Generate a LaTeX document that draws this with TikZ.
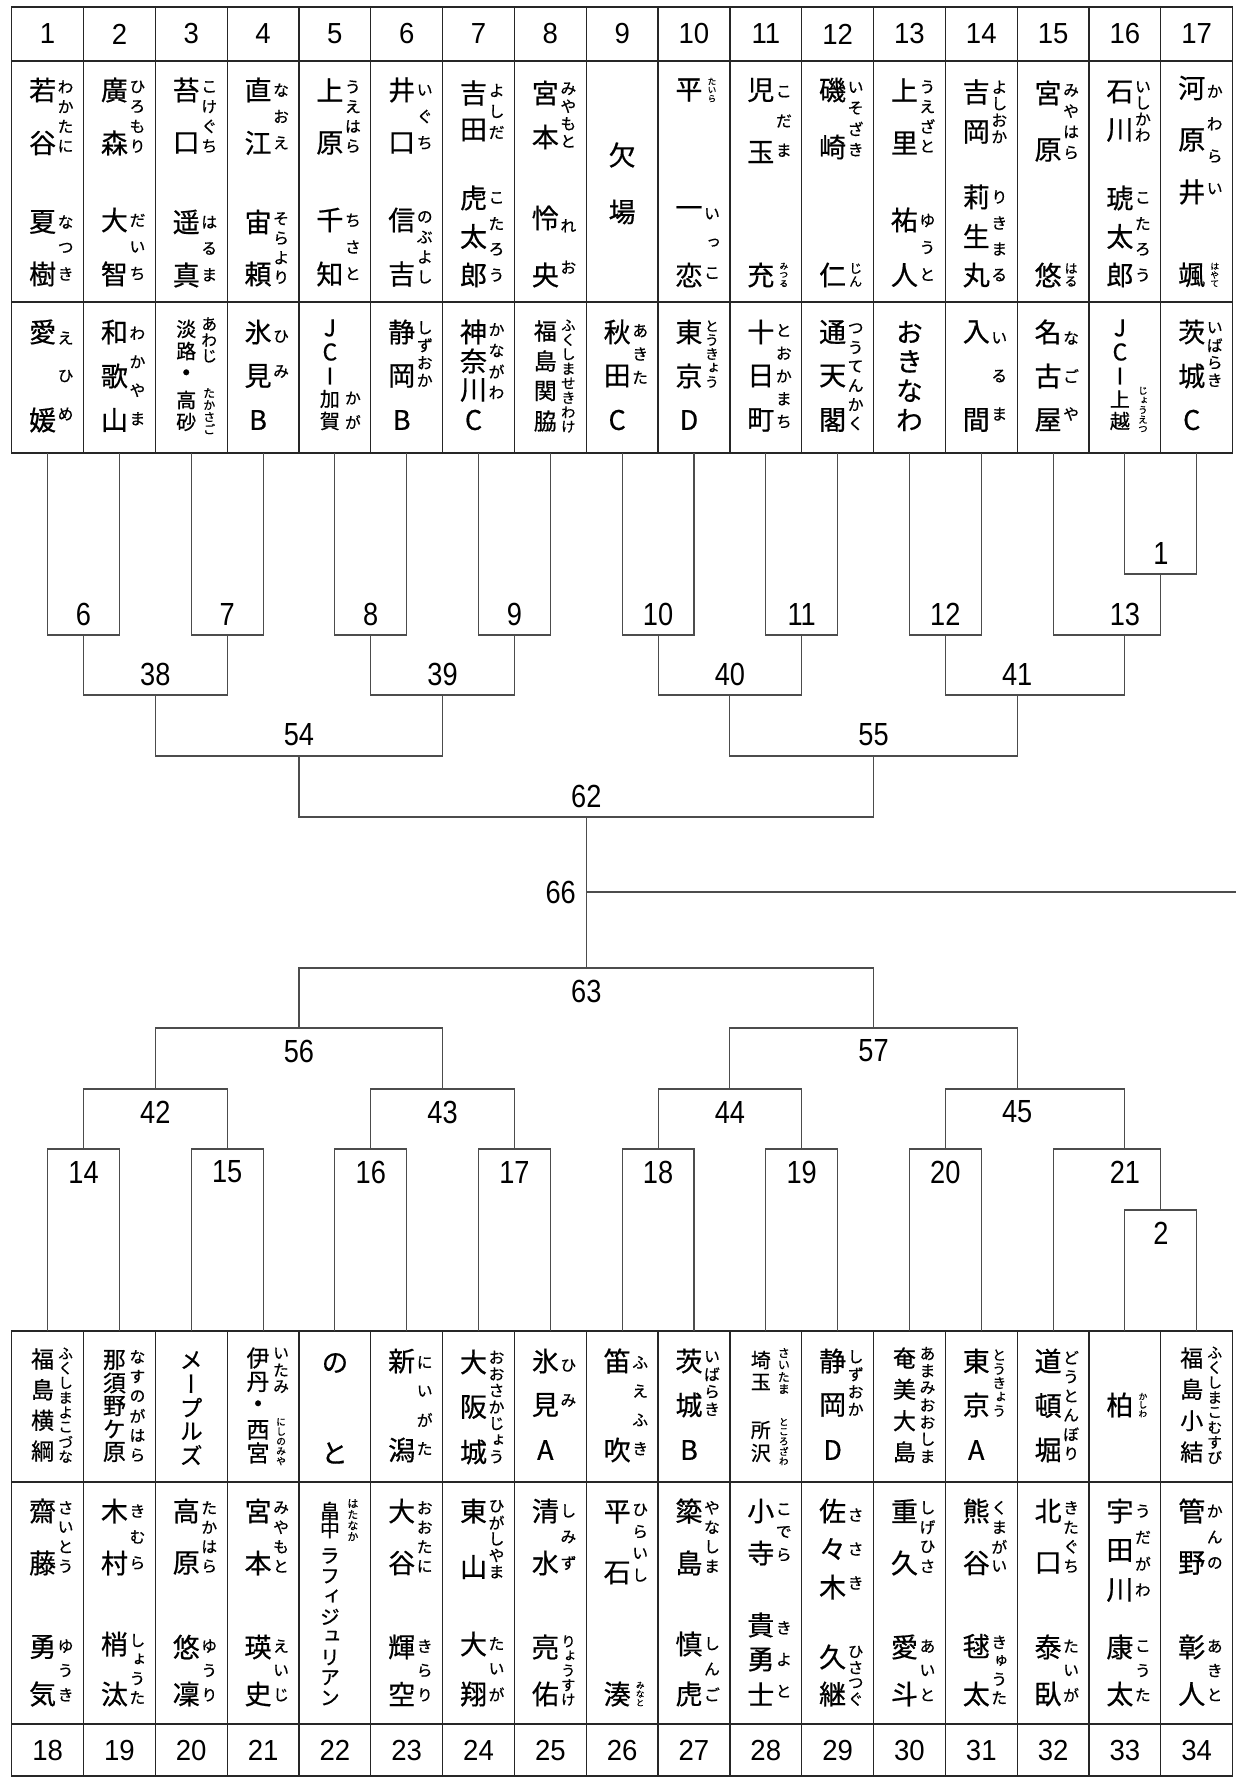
\documentclass[tikz,border=0pt]{standalone}
\usepackage{fontspec}
\usepackage{tikz}
\newfontfamily\jp[RawFeature=+vert, FakeBold=0.6]{Noto Sans CJK JP}
\newfontfamily\numf[FakeStretch=0.95]{Liberation Sans}
\newfontfamily\bnumf[FakeStretch=0.85]{Liberation Sans}
\newcommand{\kjl}{\jp\fontsize{13.5pt}{13.5pt}\selectfont}
\newcommand{\kjm}{\jp\fontsize{11.5pt}{11.5pt}\selectfont}
\newcommand{\kjs}{\jp\fontsize{10pt}{10pt}\selectfont}
\newcount\chn
\newcommand{\colx}[1]{\pgfmathsetmacro\cx{11.7+71.82*(#1-0.5)}}
% word with reading: [kanji opts]{col}{y first}{y last}{kanji}{kana}
\newcommand{\rw}[6][]{%
  \colx{#2}%
  \foreach \kc [count=\kn] in {#5}{\global\let\nk\kn}%
  \foreach \kc [count=\kn] in {#6}{\global\let\nr\kn}%
  \foreach \kc [count=\kn] in {#5}{%
    \ifnum\nk=1 \pgfmathsetmacro\yy{#3}\else
    \pgfmathsetmacro\yy{#3+(#4-#3)*(\kn-1)/(\nk-1)}\fi
    \global\advance\chn by 1
    \node[kan,#1] (ch\the\chn) at (\cx-5,\yy) {\kc};}%
  \pgfmathsetmacro\slot{(#4-#3+26)/\nr}%
  \pgfmathsetmacro\kfs{min(16,\slot)/2}%
  \foreach \kc [count=\kn] in {#6}{%
    \pgfmathsetmacro\yy{#3-13+\slot*(\kn-0.5)}%
    \global\advance\chn by 1
    \node[kana, font=\jp\fontsize{\kfs pt}{\kfs pt}\selectfont] (ch\the\chn) at (\cx+18,\yy) {\kc};}%
}
% plain characters: [opts]{col}{dx}{y first}{y last}{chars}
\newcommand{\pw}[6][]{%
  \colx{#2}%
  \pgfmathsetmacro\xx{\cx+(#3)}%
  \foreach \kc [count=\kn] in {#6}{\global\let\nk\kn}%
  \foreach \kc [count=\kn] in {#6}{%
    \ifnum\nk=1 \pgfmathsetmacro\yy{#4}\else
    \pgfmathsetmacro\yy{#4+(#5-#4)*(\kn-1)/(\nk-1)}\fi
    \global\advance\chn by 1
    \node[kan,#1] (ch\the\chn) at (\xx,\yy) {\kc};}%
}

\begin{document}
\begin{tikzpicture}[x=0.5pt, y=-0.5pt,
    kan/.style={font=\kjl, inner sep=0pt},
    kana/.style={inner sep=0pt},
    hnum/.style={font=\numf\fontsize{14.5pt}{14.5pt}\selectfont, inner sep=0pt},
    num/.style={font=\bnumf\fontsize{16pt}{16pt}\selectfont, inner sep=0pt},
    tnum/.style={num, yshift=10.5pt},
    bnum/.style={num, yshift=-11.5pt},
    grid/.style={line width=0.6pt, black!85},
    bline/.style={line width=0.55pt, black!70}]
  \fill[white] (0,0) rectangle (1236,1777);
  \useasboundingbox (0,0) rectangle (1236,1777);

  % tables
  \draw[grid] (11.7,7) rectangle (1232.7,453);
  \draw[grid] (11.7,61) -- (1232.7,61) (11.7,302) -- (1232.7,302);
  \foreach \i in {1,...,16} \draw[grid] ({11.7+71.82*\i},7) -- ({11.7+71.82*\i},453);
  \draw[grid] (11.7,1331) rectangle (1232.7,1776);
  \draw[grid] (11.7,1482) -- (1232.7,1482) (11.7,1724) -- (1232.7,1724);
  \foreach \i in {1,...,16} \draw[grid] ({11.7+71.82*\i},1331) -- ({11.7+71.82*\i},1776);

  \foreach \i in {1,...,17}{
    \pgfmathtruncatemacro\j{\i+17}
    \node[hnum] (h\i) at ({11.7+71.82*(\i-0.5)},34) {\i};
    \node[hnum] (f\i) at ({11.7+71.82*(\i-0.5)},1750) {\j};
  }

  % top players
  \rw{1}{90}{143}{若,谷}{わ,か,た,に}
  \rw{1}{222}{274}{夏,樹}{な,つ,き}
  \rw{2}{90}{143}{廣,森}{ひ,ろ,も,り}
  \rw{2}{220}{274}{大,智}{だ,い,ち}
  \rw{3}{90}{143}{苔,口}{こ,け,ぐ,ち}
  \rw{3}{222}{275}{遥,真}{は,る,ま}
  \rw{4}{90}{143}{直,江}{な,お,え}
  \rw{4}{222}{274}{宙,頼}{そ,ら,よ,り}
  \rw{5}{90}{143}{上,原}{う,え,は,ら}
  \rw{5}{220}{274}{千,知}{ち,さ,と}
  \rw{6}{90}{143}{井,口}{い,ぐ,ち}
  \rw{6}{220}{274}{信,吉}{の,ぶ,よ,し}
  \rw{7}{93}{130}{吉,田}{よ,し,だ}
  \rw{7}{198}{275}{虎,太,郎}{こ,た,ろ,う}
  \rw{8}{93}{137}{宮,本}{み,や,も,と}
  \rw{8}{218}{275}{怜,央}{れ,お}
  \pw{9}{0}{155}{212}{欠,場}
  \rw{10}{90}{90}{平}{た,い,ら}
  \rw{10}{212}{275}{一,恋}{い,っ,こ}
  \rw{11}{90}{152}{児,玉}{こ,だ,ま}
  \rw{11}{275}{275}{充}{み,つ,る}
  \rw{12}{90}{147}{磯,崎}{い,そ,ざ,き}
  \rw{12}{275}{275}{仁}{じ,ん}
  \rw{13}{90}{143}{上,里}{う,え,ざ,と}
  \rw{13}{220}{275}{祐,人}{ゆ,う,と}
  \rw{14}{92}{132}{吉,岡}{よ,し,お,か}
  \rw{14}{197}{275}{莉,生,丸}{り,き,ま,る}
  \rw{15}{93}{150}{宮,原}{み,や,は,ら}
  \rw{15}{275}{275}{悠}{は,る}
  \rw{16}{92}{130}{石,川}{い,し,か,わ}
  \rw{16}{198}{275}{琥,太,郎}{こ,た,ろ,う}
  \rw{17}{88}{192}{河,原,井}{か,わ,ら,い}
  \rw{17}{275}{275}{颯}{は,や,て}

  % top teams
  \rw{1}{332}{420}{愛,媛}{え,ひ,め}
  \rw{2}{332}{420}{和,歌,山}{わ,か,や,ま}
  \rw[font=\kjs]{3}{329}{351}{淡,路}{あ,わ,じ}
  \pw{3}{-5}{376}{376}{・}
  \rw[font=\kjs]{3}{400}{422}{高,砂}{た,か,さ,ご}
  \rw{4}{332}{376}{氷,見}{ひ,み}
  \pw{4}{-5}{420}{420}{B}
  \pw[font=\kjm]{5}{-5}{328}{376}{J,C,I}
  \rw[font=\kjs]{5}{399}{421}{加,賀}{か,が}
  \rw{6}{332}{376}{静,岡}{し,ず,お,か}
  \pw{6}{-5}{420}{420}{B}
  \rw{7}{332}{390}{神,奈,川}{か,な,が,わ}
  \pw{7}{-5}{420}{420}{C}
  \rw[font=\kjm]{8}{331}{421}{福,島,関,脇}{ふ,く,し,ま,せ,き,わ,け}
  \rw{9}{332}{376}{秋,田}{あ,き,た}
  \pw{9}{-5}{420}{420}{C}
  \rw{10}{332}{376}{東,京}{と,う,き,ょ,う}
  \pw{10}{-5}{420}{420}{D}
  \rw{11}{332}{420}{十,日,町}{と,お,か,ま,ち}
  \rw{12}{332}{420}{通,天,閣}{つ,う,て,ん,か,く}
  \pw{13}{0}{332}{420}{お,き,な,わ}
  \rw{14}{332}{420}{入,間}{い,る,ま}
  \rw{15}{332}{420}{名,古,屋}{な,ご,や}
  \pw[font=\kjm]{16}{-5}{328}{376}{J,C,I}
  \rw[font=\kjs]{16}{399}{421}{上,越}{じ,ょ,う,え,つ}
  \rw{17}{332}{376}{茨,城}{い,ば,ら,き}
  \pw{17}{-5}{420}{420}{C}

  % bottom teams
  \rw[font=\kjm]{1}{1359}{1451}{福,島,横,綱}{ふ,く,し,ま,よ,こ,づ,な}
  \rw[font=\kjm]{2}{1360}{1452}{那,須,野,ケ,原}{な,す,の,が,は,ら}
  \pw[font=\kjm]{3}{0}{1360}{1455}{メ,ー,プ,ル,ズ}
  \rw[font=\kjm]{4}{1358}{1382}{伊,丹}{い,た,み}
  \pw{4}{-5}{1407}{1407}{・}
  \rw[font=\kjm]{4}{1430}{1453}{西,宮}{に,し,の,み,や}
  \pw{5}{0}{1363}{1453}{の,と}
  \rw{6}{1361}{1450}{新,潟}{に,い,が,た}
  \rw{7}{1362}{1452}{大,阪,城}{お,お,さ,か,じ,ょ,う}
  \rw{8}{1361}{1405}{氷,見}{ひ,み}
  \pw{8}{-5}{1450}{1450}{A}
  \rw{9}{1361}{1450}{笛,吹}{ふ,え,ふ,き}
  \rw{10}{1361}{1405}{茨,城}{い,ば,ら,き}
  \pw{10}{-5}{1450}{1450}{B}
  \rw[font=\kjs]{11}{1360}{1382}{埼,玉}{さ,い,た,ま}
  \rw[font=\kjs]{11}{1430}{1453}{所,沢}{と,こ,ろ,ざ,わ}
  \rw{12}{1361}{1405}{静,岡}{し,ず,お,か}
  \pw{12}{-5}{1450}{1450}{D}
  \rw[font=\kjm]{13}{1358}{1452}{奄,美,大,島}{あ,ま,み,お,お,し,ま}
  \rw{14}{1361}{1405}{東,京}{と,う,き,ょ,う}
  \pw{14}{-5}{1450}{1450}{A}
  \rw{15}{1361}{1450}{道,頓,堀}{ど,う,と,ん,ぼ,り}
  \rw{16}{1405}{1405}{柏}{か,し,わ}
  \rw[font=\kjm]{17}{1358}{1452}{福,島,小,結}{ふ,く,し,ま,こ,む,す,び}

  % bottom players
  \rw{1}{1511}{1563}{齋,藤}{さ,い,と,う}
  \rw{1}{1647}{1694}{勇,気}{ゆ,う,き}
  \rw{2}{1511}{1563}{木,村}{き,む,ら}
  \rw{2}{1644}{1694}{梢,汰}{し,ょ,う,た}
  \rw{3}{1511}{1563}{高,原}{た,か,は,ら}
  \rw{3}{1647}{1694}{悠,凜}{ゆ,う,り}
  \rw{4}{1511}{1563}{宮,本}{み,や,も,と}
  \rw{4}{1647}{1694}{瑛,史}{え,い,じ}
  \rw[font=\kjs]{5}{1511}{1529}{畠,中}{は,た,な,か}
  \pw[font=\kjs]{5}{-5}{1556}{1698}{ラ,フ,ィ,ジ,ュ,リ,ア,ン}
  \rw{6}{1511}{1563}{大,谷}{お,お,た,に}
  \rw{6}{1647}{1694}{輝,空}{き,ら,り}
  \rw{7}{1511}{1567}{東,山}{ひ,が,し,や,ま}
  \rw{7}{1644}{1694}{大,翔}{た,い,が}
  \rw{8}{1511}{1563}{清,水}{し,み,ず}
  \rw{8}{1647}{1694}{亮,佑}{り,ょ,う,す,け}
  \rw{9}{1512}{1573}{平,石}{ひ,ら,い,し}
  \rw{9}{1694}{1694}{湊}{み,な,と}
  \rw{10}{1511}{1563}{簗,島}{や,な,し,ま}
  \rw{10}{1644}{1694}{慎,虎}{し,ん,ご}
  \rw{11}{1511}{1553}{小,寺}{こ,で,ら}
  \rw{11}{1625}{1694}{貴,勇,士}{き,よ,と}
  \rw{12}{1511}{1587}{佐,々,木}{さ,さ,き}
  \rw{12}{1657}{1694}{久,継}{ひ,さ,つ,ぐ}
  \rw{13}{1511}{1563}{重,久}{し,げ,ひ,さ}
  \rw{13}{1647}{1694}{愛,斗}{あ,い,と}
  \rw{14}{1511}{1563}{熊,谷}{く,ま,が,い}
  \rw{14}{1646}{1694}{毬,太}{き,ゅ,う,た}
  \rw{15}{1511}{1563}{北,口}{き,た,ぐ,ち}
  \rw{15}{1647}{1694}{泰,臥}{た,い,が}
  \rw{16}{1511}{1590}{宇,田,川}{う,だ,が,わ}
  \rw{16}{1647}{1694}{康,太}{こ,う,た}
  \rw{17}{1511}{1563}{管,野}{か,ん,の}
  \rw{17}{1647}{1694}{彰,人}{あ,き,と}

  % bracket
  \foreach \i in {1,...,17}{
    \coordinate (tp\i) at ({11.7+71.82*(\i-0.5)},453);
    \coordinate (bt\i) at ({11.7+71.82*(\i-0.5)},1331);
  }
  \foreach \m/\p/\l in {1/16.5/574, 6/1.5/635, 7/3.5/635, 8/5.5/635, 9/7.5/635,
      10/9.5/635, 11/11.5/635, 12/13.5/635, 13/16/635, 38/2.5/695, 39/6.5/695,
      40/10.5/695, 41/14.5/695, 54/4.5/756, 55/12.5/756, 62/8.5/817,
      2/16.5/1210, 14/1.5/1149, 15/3.5/1149, 16/5.5/1149, 17/7.5/1149,
      18/9.5/1149, 19/11.5/1149, 20/13.5/1149, 21/16/1149, 42/2.5/1089,
      43/6.5/1089, 44/10.5/1089, 45/14.5/1089, 56/4.5/1028, 57/12.5/1028,
      63/8.5/968, 66/8.5/892}
    \coordinate (m\m) at ({11.7+71.82*(\p-0.5)},\l);
  \coordinate (rgt) at (1236,892);

  \foreach \m/\a/\b in {1/tp16/tp17, 6/tp1/tp2, 7/tp3/tp4, 8/tp5/tp6, 9/tp7/tp8,
      10/tp9/tp10, 11/tp11/tp12, 12/tp13/tp14, 13/tp15/m1, 38/m6/m7, 39/m8/m9,
      40/m10/m11, 41/m12/m13, 54/m38/m39, 55/m40/m41, 62/m54/m55,
      2/bt16/bt17, 14/bt1/bt2, 15/bt3/bt4, 16/bt5/bt6, 17/bt7/bt8,
      18/bt9/bt10, 19/bt11/bt12, 20/bt13/bt14, 21/bt15/m2, 42/m14/m15,
      43/m16/m17, 44/m18/m19, 45/m20/m21, 56/m42/m43, 57/m44/m45, 63/m56/m57}
    \draw[bline] (\a) -- (\a |- m\m) -- (\b |- m\m) -- (\b);
  \draw[bline] (m62) -- (m63);
  \draw[bline] (m66) -- (rgt);

  \foreach \m in {1,6,7,8,9,10,11,12,13,38,39,40,41,54,55,62}
    \node[tnum] (l\m) at (m\m) {\m};
  \foreach \m in {2,14,15,16,17,18,19,20,21,42,43,44,45,56,57,63}
    \node[bnum] (l\m) at (m\m) {\m};
  \node[num, anchor=east, xshift=-5pt] (l66) at (m66) {66};
\end{tikzpicture}
\end{document}
